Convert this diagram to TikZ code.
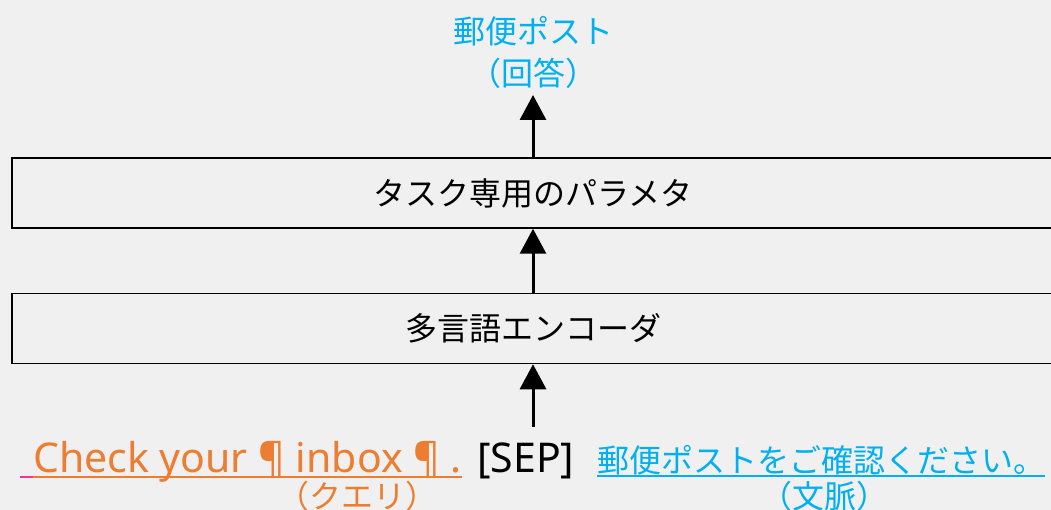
\documentclass[tikz,border=0pt]{standalone}
\usepackage{fontspec}
\setmainfont{Noto Sans CJK JP}
\newfontfamily\latinfont{Noto Sans}
\usetikzlibrary{arrows.meta,calc}
\definecolor{bg}{HTML}{F0F0F0}
\definecolor{qorange}{HTML}{ED7D31}
\definecolor{cblue}{HTML}{00B0F0}
\definecolor{upink}{HTML}{F0359A}
\tikzset{
  box/.style={draw=black, line width=1.5pt, minimum width=1042pt, minimum height=70pt, inner sep=0pt, font=\fontsize{32}{38}\selectfont},
  lbl/.style={inner sep=0pt, font=\fontsize{32}{38}\selectfont},
  sublbl/.style={inner sep=0pt, anchor=base, text height=23pt, text depth=4pt, font=\fontsize{32}{38}\selectfont},
  latin/.style={inner sep=0pt, text depth=1pt, font=\latinfont\fontsize{41}{46}\selectfont},
  uarrow/.style={line width=3pt, -{Triangle[width=26pt,length=25pt]}},
  uline/.style={line width=2pt}
}
\begin{document}
\begin{tikzpicture}[x=1pt,y=-1pt]
\useasboundingbox (0,0) rectangle (1051,510);
\clip (0,0) rectangle (1051,510);
\fill[bg] (0,0) rectangle (1051,510);
% boxes
\node[box] (task) at (533,193) {タスク専用のパラメタ};
\node[box] (enc) at (533,328.5) {多言語エンコーダ};
% answer
\node[lbl, text=cblue] (ans1) at (533,31) {郵便ポスト};
\node[lbl, text=cblue] (ans2) at (533,73) {（回答）};
\coordinate (anstip) at (533,95);
\coordinate (inp) at (533,427);
% arrows
\draw[uarrow] (inp) -- (enc.south);
\draw[uarrow] (enc.north) -- (task.south);
\draw[uarrow] (task.north) -- (anstip);
% input line
\node[latin, text=qorange, anchor=base west] (q) at (33,472) {Check your ¶ inbox ¶ .};
\node[latin, anchor=base west] (sep) at (477,472) {[SEP]};
\node[lbl, text=cblue, anchor=base west, text depth=1pt] (ctx) at (597,472) {郵便ポストをご確認ください。};
\draw[uline, upink] ([xshift=-13pt,yshift=-5pt]q.base west) -- ([yshift=-5pt]q.base west);
\draw[uline, qorange] ([yshift=-5pt]q.base west) -- ([yshift=-5pt]q.base east);
\draw[uline, cblue] ([yshift=-4pt]ctx.base west) -- ([yshift=-4pt]ctx.base east);
\node[sublbl, text=qorange] (ql) at (357,508) {（クエリ）};
\node[sublbl, text=cblue] (cl) at (824,508) {（文脈）};
\end{tikzpicture}
\end{document}
